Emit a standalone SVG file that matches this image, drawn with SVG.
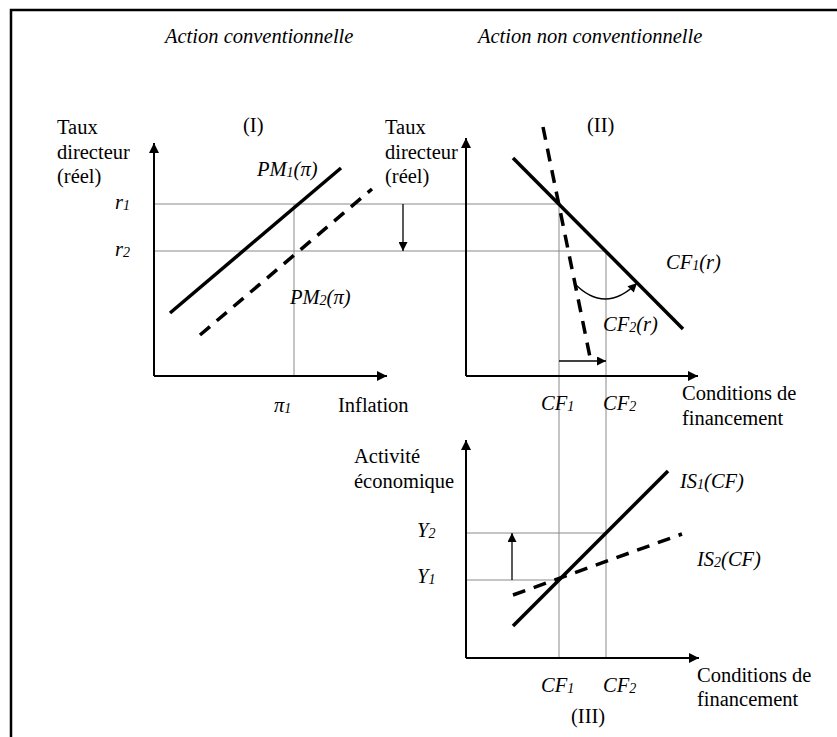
<svg xmlns="http://www.w3.org/2000/svg" width="837" height="737" viewBox="0 0 837 737">
<style>
text{font-family:"Liberation Serif","Times New Roman",serif;font-size:20.5px;fill:#000}
.it{font-style:italic}
.sub{font-size:14px}
.axis{stroke:#000;stroke-width:2;fill:none}
.guide{stroke:#8a8a8a;stroke-width:1;fill:none}
.curve{stroke:#000;stroke-width:3.5;fill:none}
.dash{stroke:#000;stroke-width:3.5;fill:none;stroke-dasharray:13 9}
.thin{stroke:#000;stroke-width:1.3;fill:none}
</style>
<defs>
<marker id="ah" viewBox="0 0 10 10" refX="10" refY="5" markerWidth="10" markerHeight="10" markerUnits="userSpaceOnUse" orient="auto">
<path d="M0,0 L10,5 L0,10 Z" fill="#000"/>
</marker>
<marker id="ahs" viewBox="0 0 10 10" refX="10" refY="5" markerWidth="10" markerHeight="9" markerUnits="userSpaceOnUse" orient="auto">
<path d="M0,0 L10,5 L0,10 Z" fill="#000"/>
</marker>
</defs>
<rect width="837" height="737" fill="#fff"/>
<g id="frame">
<path d="M11,737 L11,10 L837,10" stroke="#000" stroke-width="2.5" fill="none"/>
</g>
<g id="titles">
<text class="it" x="165" y="43">Action conventionnelle</text>
<text class="it" x="478" y="43">Action non conventionnelle</text>
</g>
<g id="guides">
<line class="guide" x1="154" y1="204" x2="559" y2="204"/>
<line class="guide" x1="154" y1="251" x2="606" y2="251"/>
<line class="guide" x1="294" y1="204" x2="294" y2="376"/>
<line class="guide" x1="559" y1="204" x2="559" y2="658"/>
<line class="guide" x1="606" y1="251" x2="606" y2="658"/>
<line class="guide" x1="466" y1="533" x2="606" y2="533"/>
<line class="guide" x1="466" y1="580" x2="559" y2="580"/>
</g>
<g id="panel-I">
<line class="axis" x1="154" y1="376" x2="154" y2="143" marker-end="url(#ah)"/>
<line class="axis" x1="154" y1="376" x2="387" y2="376" marker-end="url(#ah)"/>
<text x="57" y="134">Taux</text>
<text x="57" y="159">directeur</text>
<text x="57" y="183">(réel)</text>
<text x="243" y="132">(I)</text>
<text class="it" x="115" y="209">r<tspan class="sub" dy="1">1</tspan></text>
<text class="it" x="115" y="256">r<tspan class="sub" dy="1">2</tspan></text>
<text class="it" x="274" y="412">π<tspan class="sub" dy="1">1</tspan></text>
<text x="338" y="412">Inflation</text>
</g>
<g id="PM1">
<line class="curve" x1="170" y1="313" x2="341" y2="168"/>
<text class="it" x="257" y="176">PM<tspan class="sub" dy="1">1</tspan><tspan dy="-1">(π)</tspan></text>
</g>
<g id="PM2">
<line class="dash" x1="200" y1="335" x2="372" y2="189"/>
<text class="it" x="290" y="304">PM<tspan class="sub" dy="1">2</tspan><tspan dy="-1">(π)</tspan></text>
</g>
<g id="panel-II">
<line class="axis" x1="466" y1="376" x2="466" y2="138" marker-end="url(#ah)"/>
<line class="axis" x1="466" y1="376" x2="698" y2="376" marker-end="url(#ah)"/>
<text x="385" y="134">Taux</text>
<text x="385" y="159">directeur</text>
<text x="385" y="183">(réel)</text>
<text x="587" y="132">(II)</text>
<text class="it" x="541" y="410">CF<tspan class="sub" dy="1">1</tspan></text>
<text class="it" x="603" y="410">CF<tspan class="sub" dy="1">2</tspan></text>
<text x="682" y="400">Conditions de</text>
<text x="682" y="425">financement</text>
</g>
<g id="CF1r">
<line class="curve" x1="513" y1="158" x2="683" y2="329"/>
<text class="it" x="666" y="269">CF<tspan class="sub" dy="1">1</tspan><tspan dy="-1">(r)</tspan></text>
</g>
<g id="CF2r">
<line class="dash" x1="543" y1="127" x2="590" y2="357"/>
<text class="it" x="603" y="331">CF<tspan class="sub" dy="1">2</tspan><tspan dy="-1">(r)</tspan></text>
</g>
<g id="panel-III">
<line class="axis" x1="466" y1="658" x2="466" y2="440" marker-end="url(#ah)"/>
<line class="axis" x1="466" y1="658" x2="699" y2="658" marker-end="url(#ah)"/>
<text x="354" y="463">Activité</text>
<text x="354" y="488">économique</text>
<text class="it" x="417" y="537">Y<tspan class="sub" dy="1">2</tspan></text>
<text class="it" x="417" y="583">Y<tspan class="sub" dy="1">1</tspan></text>
<text class="it" x="541" y="692">CF<tspan class="sub" dy="1">1</tspan></text>
<text class="it" x="603" y="692">CF<tspan class="sub" dy="1">2</tspan></text>
<text x="697" y="682">Conditions de</text>
<text x="697" y="706">financement</text>
<text x="571" y="723">(III)</text>
</g>
<g id="IS1">
<line class="curve" x1="513" y1="626" x2="668" y2="471"/>
<text class="it" x="680" y="488">IS<tspan class="sub" dy="1">1</tspan><tspan dy="-1">(CF)</tspan></text>
</g>
<g id="IS2">
<line class="dash" x1="513" y1="595" x2="682" y2="534"/>
<text class="it" x="697" y="566">IS<tspan class="sub" dy="1">2</tspan><tspan dy="-1">(CF)</tspan></text>
</g>
<g id="connectors">
<line class="thin" x1="403" y1="204" x2="403" y2="251" marker-end="url(#ahs)"/>
<line class="thin" x1="559" y1="361" x2="606" y2="361" marker-end="url(#ahs)"/>
<path class="thin" d="M574,283 Q605,315 637,283" marker-end="url(#ahs)"/>
<line class="thin" x1="512" y1="580" x2="512" y2="533" marker-end="url(#ahs)"/>
</g>
</svg>
